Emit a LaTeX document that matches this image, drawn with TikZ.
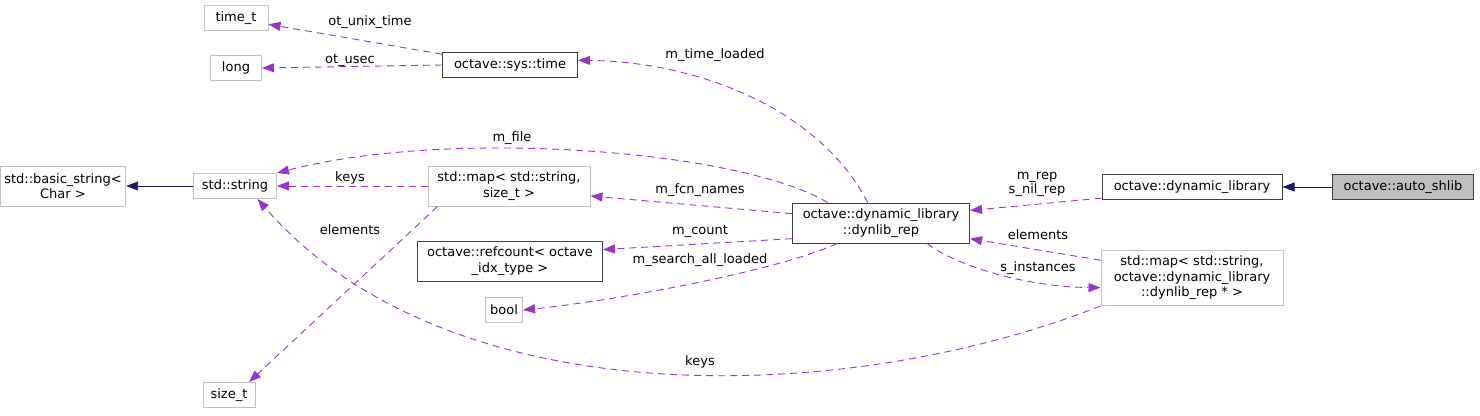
\documentclass[tikz,border=0pt]{standalone}
\usepackage{fontspec}
\setmainfont{DejaVu Sans}
\usepackage{tikz}
\usetikzlibrary{arrows.meta,positioning,calc}
\definecolor{usecol}{HTML}{9A32CD}
\definecolor{basecol}{HTML}{191970}
\definecolor{greyline}{HTML}{BFBFBF}

\begin{document}
\begin{tikzpicture}[
    x=1pt, y=-1pt,
    every node/.style={font=\fontsize{13}{15.5}\selectfont},
    block/.style={draw=black!75, line width=1pt, align=center, minimum height=25pt, inner xsep=4pt, inner ysep=3pt, fill=white},
    extblock/.style={block, draw=greyline},
    usage/.style={-{Triangle[length=12pt,width=9pt]}, usecol, line width=0.9pt, dash pattern=on 7pt off 5pt},
    inherit/.style={-{Triangle[length=12pt,width=9pt]}, basecol, line width=0.9pt},
    lbl/.style={inner sep=0pt}
]
\useasboundingbox (0,0) rectangle (1480,415);
\node[extblock, minimum width=64pt] (timet) at (236,18) {time\_t};
\node[extblock, minimum width=51pt] (long) at (236,68) {long};
\node[block, minimum width=135pt] (systime) at (510,65) {octave::sys::time};
\node[extblock, minimum width=117pt, minimum height=40pt] (basic) at (63,186) {std::basic\_string<\\Char >};
\node[extblock, minimum width=83pt] (str) at (235,186) {std::string};
\node[extblock, minimum width=162pt, minimum height=40pt] (mapsz) at (509,186) {std::map< std::string,\\size\_t >};
\node[block, minimum width=185pt, minimum height=40pt] (refcnt) at (510,261) {octave::refcount< octave\\\_idx\_type >};
\node[extblock, minimum width=37pt] (bool) at (504,310) {bool};
\node[extblock, minimum width=52pt] (sizet) at (229,395) {size\_t};
\node[block, minimum width=177pt, minimum height=40pt] (rep) at (881,223) {octave::dynamic\_library\\::dynlib\_rep};
\node[block, minimum width=180pt] (dynlib) at (1192,187) {octave::dynamic\_library};
\node[block, minimum width=141pt, fill=greyline] (autosh) at (1403,187) {octave::auto\_shlib};
\node[extblock, minimum width=182pt, minimum height=55pt] (maprep) at (1192,278) {std::map< std::string,\\octave::dynamic\_library\\::dynlib\_rep * >};

\draw[inherit] (autosh) -- (dynlib);
\draw[inherit] (str) -- (basic);
\draw[usage] (systime.171) -- (timet.-11);
\draw[usage] (systime.west) -- (long.east);
\draw[usage] (rep.123) .. controls (820,110) and (700,62) .. (systime.4);
\draw[usage] (rep.159) .. controls (740,150) and (450,128) .. (str.north east);
\draw[usage] (mapsz.west) -- (str.east);
\draw[usage] (mapsz.196) -- (sizet.33);
\draw[usage] (rep.174) -- (mapsz.-7);
\draw[usage] (rep.190) -- (refcnt.7);
\draw[usage] (rep.205) .. controls (780,270) and (620,300) .. (bool.east);
\draw[usage] (dynlib.187) -- (rep.8);
\draw[usage] (maprep.169) -- (rep.-10);
\draw[usage] (rep.-24) .. controls (960,268) and (1030,287) .. (maprep.186);
\draw[usage] (maprep.197) .. controls (850,405) and (450,420) .. (str.-30);

\node[lbl] (l1) at (370,22) {ot\_unix\_time};
\node[lbl] (l2) at (350,60) {ot\_usec};
\node[lbl] (l3) at (715,55) {m\_time\_loaded};
\node[lbl] (l4) at (512,138) {m\_file};
\node[lbl] (l5) at (350,178) {keys};
\node[lbl] (l6) at (350,230) {elements};
\node[lbl] (l7) at (700,190) {m\_fcn\_names};
\node[lbl] (l8) at (700,231) {m\_count};
\node[lbl] (l9) at (700,260) {m\_search\_all\_loaded};
\node[lbl, align=center, font=\fontsize{13}{14}\selectfont] (l10) at (1037,184) {m\_rep\\s\_nil\_rep};
\node[lbl] (l11) at (1038,235) {elements};
\node[lbl] (l12) at (1038,268) {s\_instances};
\node[lbl] (l13) at (700,362) {keys};
\end{tikzpicture}
\end{document}
